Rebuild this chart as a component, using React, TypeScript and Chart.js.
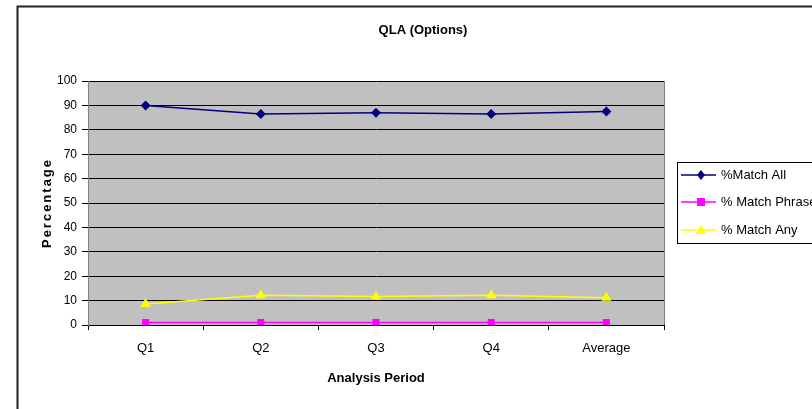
import React, { useEffect, useRef } from "react";
import { Chart, registerables } from "chart.js";

Chart.register(...registerables);

const categories = ["Q1", "Q2", "Q3", "Q4", "Average"];
const matchAll = [90, 86.5, 87, 86.5, 87.5];
const matchPhrase = [1, 1, 1, 1, 1];
const matchAny = [8.6, 12.2, 11.7, 12.2, 11.2];
const seriesNames = ["%Match All", "% Match Phrase", "% Match Any"];
const seriesColors = ["#000080", "#FF00FF", "#FFFF00"];
const seriesMarkers = ["rectRot", "rect", "triangle"];
const yTicks = [0, 10, 20, 30, 40, 50, 60, 70, 80, 90, 100];
const chartTitle = "QLA (Options)";
const xTitle = "Analysis Period";
const yTitle = "Percentage";

const FONT = "'Liberation Sans', Arial, sans-serif";

function drawMarker(ctx: CanvasRenderingContext2D, kind: string, x: number, y: number, color: string) {
  ctx.save();
  ctx.fillStyle = color;
  ctx.beginPath();
  if (kind === "rectRot") {
    ctx.moveTo(x, y - 5);
    ctx.lineTo(x + 4, y);
    ctx.lineTo(x, y + 5);
    ctx.lineTo(x - 4, y);
  } else if (kind === "rect") {
    ctx.rect(x - 4, y - 4, 8, 8);
  } else {
    ctx.moveTo(x, y - 5);
    ctx.lineTo(x + 5, y + 4);
    ctx.lineTo(x - 5, y + 4);
  }
  ctx.closePath();
  ctx.fill();
  ctx.restore();
}

const decorPlugin = {
  id: "decor",
  beforeDraw(chart: any) {
    const { ctx, chartArea } = chart;
    ctx.save();
    ctx.fillStyle = "#ffffff";
    ctx.fillRect(0, 0, chart.width, chart.height);
    ctx.fillStyle = "#C0C0C0";
    ctx.fillRect(chartArea.left, chartArea.top, chartArea.right - chartArea.left, chartArea.bottom - chartArea.top);
    ctx.restore();
  },
  afterDraw(chart: any) {
    const { ctx, chartArea } = chart;
    ctx.save();
    // outer frame
    ctx.strokeStyle = "#222222";
    ctx.lineWidth = 2;
    ctx.beginPath();
    ctx.moveTo(17.5, 420);
    ctx.lineTo(17.5, 6.5);
    ctx.lineTo(830, 6.5);
    ctx.stroke();

    // plot right edge
    ctx.strokeStyle = "#808080";
    ctx.lineWidth = 1;
    ctx.beginPath();
    ctx.moveTo(chartArea.right + 0.5, chartArea.top);
    ctx.lineTo(chartArea.right + 0.5, chartArea.bottom);
    ctx.stroke();

    // title
    ctx.fillStyle = "#000000";
    ctx.font = `bold 13px ${FONT}`;
    ctx.textAlign = "center";
    ctx.textBaseline = "middle";
    ctx.fillText(chartTitle, 423, 30);

    // x title
    ctx.fillText(xTitle, (chartArea.left + chartArea.right) / 2, 378);

    // y title with letter spacing
    ctx.save();
    ctx.translate(47, (chartArea.top + chartArea.bottom) / 2);
    ctx.rotate(-Math.PI / 2);
    (ctx as any).letterSpacing = "2px";
    ctx.fillText(yTitle, 0, 0);
    ctx.restore();

    // legend
    ctx.fillStyle = "#ffffff";
    ctx.fillRect(677, 162, 150, 81);
    ctx.strokeStyle = "#000000";
    ctx.lineWidth = 1;
    ctx.strokeRect(677.5, 162.5, 150, 81);
    const ys = [175, 202, 230];
    ctx.font = `13px ${FONT}`;
    ctx.textAlign = "left";
    ctx.textBaseline = "middle";
    for (let i = 0; i < 3; i++) {
      ctx.strokeStyle = seriesColors[i];
      ctx.lineWidth = 1.5;
      ctx.beginPath();
      ctx.moveTo(681, ys[i]);
      ctx.lineTo(716, ys[i]);
      ctx.stroke();
      drawMarker(ctx, seriesMarkers[i], 701, ys[i], seriesColors[i]);
      ctx.fillStyle = "#000000";
      ctx.fillText(seriesNames[i], 721, ys[i]);
    }
    ctx.restore();
  },
};

export default function App() {
  const ref = useRef<HTMLCanvasElement | null>(null);
  useEffect(() => {
    if (!ref.current) return;
    const values = [matchAll, matchPhrase, matchAny];
    const chart = new Chart(ref.current, {
      type: "line",
      data: {
        labels: categories,
        datasets: values.map((v, i) => ({
          label: seriesNames[i],
          data: v,
          borderColor: seriesColors[i],
          backgroundColor: seriesColors[i],
          pointBackgroundColor: seriesColors[i],
          pointBorderColor: seriesColors[i],
          pointStyle: seriesMarkers[i] as any,
          pointRadius: i === 2 ? 6 : 5,
          borderWidth: 1.5,
          pointBorderWidth: 0,
          fill: false,
          tension: 0,
        })),
      },
      options: {
        responsive: false,
        animation: false,
        layout: { padding: { left: 0, top: 81, right: 148, bottom: 0 } },
        plugins: { legend: { display: false }, title: { display: false }, tooltip: { enabled: false } },
        scales: {
          x: {
            offset: true,
            grid: { offset: true, drawOnChartArea: false, drawTicks: true, tickLength: 5, color: "#000000" },
            border: { color: "#000000" },
            ticks: { color: "#000000", font: { family: FONT, size: 13 }, padding: 11, maxRotation: 0 },
            afterFit: (s: any) => { s.height = 84; },
          },
          y: {
            min: 0,
            max: 100,
            afterBuildTicks: (s: any) => { s.ticks = yTicks.map((v) => ({ value: v })); },
            grid: { color: "#000000", tickLength: 6, tickColor: "#000000" },
            border: { color: "#808080" },
            ticks: { color: "#000000", font: { family: FONT, size: 12 }, padding: 5 },
            afterFit: (s: any) => { s.width = 88; },
          },
        },
      },
      plugins: [decorPlugin],
    });
    return () => chart.destroy();
  }, []);
  return (
    <div style={{ position: "absolute", left: 0, top: 0, width: 812, height: 409 }}>
      <canvas ref={ref} width={812} height={409} style={{ display: "block" }} />
    </div>
  );
}
